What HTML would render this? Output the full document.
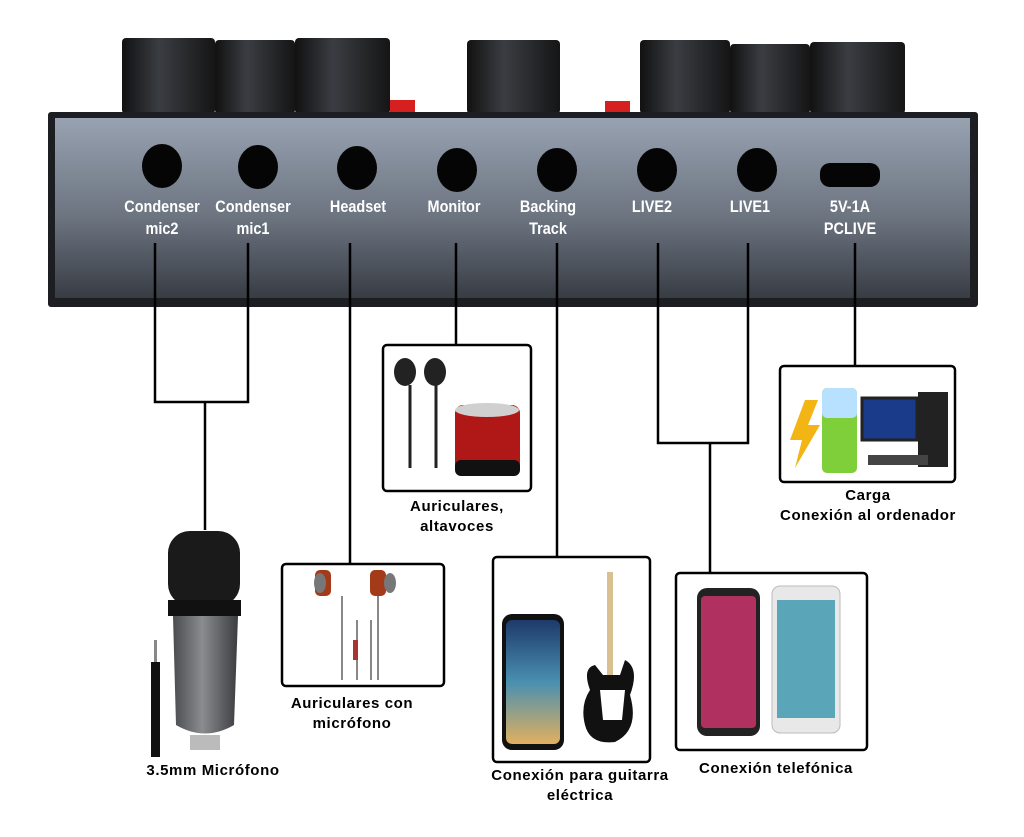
<!DOCTYPE html>
<html><head><meta charset="utf-8"><style>
html,body{margin:0;padding:0;background:#fff;width:1024px;height:837px;overflow:hidden}
svg text{font-family:"Liberation Sans",sans-serif;font-weight:bold}
</style></head><body>
<svg width="1024" height="837" viewBox="0 0 1024 837" xmlns="http://www.w3.org/2000/svg">
<defs>
<linearGradient id="pn" x1="0" y1="0" x2="0" y2="1">
<stop offset="0" stop-color="#98a2b1"/><stop offset="0.55" stop-color="#6c7480"/><stop offset="1" stop-color="#383c44"/></linearGradient>
<linearGradient id="kn" x1="0" y1="0" x2="1" y2="0">
<stop offset="0" stop-color="#111"/><stop offset="0.4" stop-color="#3a3d42"/><stop offset="1" stop-color="#151515"/></linearGradient>
<linearGradient id="mb" x1="0" y1="0" x2="1" y2="0">
<stop offset="0" stop-color="#4a4c50"/><stop offset="0.45" stop-color="#8a8c90"/><stop offset="1" stop-color="#3a3c40"/></linearGradient>
<linearGradient id="scr" x1="0" y1="0" x2="0" y2="1">
<stop offset="0" stop-color="#1d3a6a"/><stop offset="0.5" stop-color="#4a8fb0"/><stop offset="1" stop-color="#e0b060"/></linearGradient>
</defs>
<g fill="url(#kn)">
<rect x="122" y="38" width="93" height="76" rx="4"/>
<rect x="215" y="40" width="80" height="74" rx="4"/>
<rect x="295" y="38" width="95" height="76" rx="4"/>
<rect x="467" y="40" width="93" height="74" rx="4"/>
<rect x="640" y="40" width="90" height="74" rx="4"/>
<rect x="730" y="44" width="80" height="70" rx="4"/>
<rect x="810" y="42" width="95" height="72" rx="4"/>
</g>
<rect x="390" y="100" width="25" height="12" fill="#d62020"/>
<rect x="605" y="101" width="25" height="11" fill="#d62020"/>
<rect x="48" y="112" width="930" height="195" rx="3" fill="#1c1e22"/>
<rect x="55" y="118" width="915" height="180" fill="url(#pn)"/>
<g fill="#050505">
<ellipse cx="162" cy="166" rx="20" ry="22"/>
<ellipse cx="258" cy="167" rx="20" ry="22"/>
<ellipse cx="357" cy="168" rx="20" ry="22"/>
<ellipse cx="457" cy="170" rx="20" ry="22"/>
<ellipse cx="557" cy="170" rx="20" ry="22"/>
<ellipse cx="657" cy="170" rx="20" ry="22"/>
<ellipse cx="757" cy="170" rx="20" ry="22"/>
<rect x="820" y="163" width="60" height="24" rx="10"/>
</g>
<g fill="#fff" font-size="17" text-anchor="middle">
<g transform="translate(162,0) scale(0.85,1)"><text x="0" y="212">Condenser</text><text x="0" y="234">mic2</text></g>
<g transform="translate(253,0) scale(0.85,1)"><text x="0" y="212">Condenser</text><text x="0" y="234">mic1</text></g>
<g transform="translate(358,0) scale(0.85,1)"><text x="0" y="212">Headset</text></g>
<g transform="translate(454,0) scale(0.85,1)"><text x="0" y="212">Monitor</text></g>
<g transform="translate(548,0) scale(0.85,1)"><text x="0" y="212">Backing</text><text x="0" y="234">Track</text></g>
<g transform="translate(652,0) scale(0.85,1)"><text x="0" y="212">LIVE2</text></g>
<g transform="translate(750,0) scale(0.85,1)"><text x="0" y="212">LIVE1</text></g>
<g transform="translate(850,0) scale(0.85,1)"><text x="0" y="212">5V-1A</text><text x="0" y="234">PCLIVE</text></g>
</g>
<g stroke="#000" stroke-width="2.5" fill="none">
<path d="M155 243V402H248V243"/><path d="M205 402V530"/>
<path d="M350 243V565"/>
<path d="M456 243V345"/>
<path d="M557 243V558"/>
<path d="M658 243V443H748V243"/><path d="M710 443V573"/>
<path d="M855 243V366"/>
</g>
<g stroke="#000" stroke-width="2.5" fill="#fff">
<rect x="383" y="345" width="148" height="146" rx="4"/>
<rect x="780" y="366" width="175" height="116" rx="4"/>
<rect x="282" y="564" width="162" height="122" rx="4"/>
<rect x="493" y="557" width="157" height="205" rx="4"/>
<rect x="676" y="573" width="191" height="177" rx="4"/>
</g>
<g>
<ellipse cx="405" cy="372" rx="11" ry="14" fill="#222"/><ellipse cx="435" cy="372" rx="11" ry="14" fill="#222"/>
<path d="M410 385V468M436 385V468" stroke="#222" stroke-width="3"/>
<rect x="455" y="405" width="65" height="70" rx="8" fill="#b01818"/>
<ellipse cx="487" cy="410" rx="32" ry="7" fill="#d0d0d0"/>
<rect x="455" y="460" width="65" height="16" rx="6" fill="#111"/>
</g>
<g>
<path d="M805 400L790 440H802L795 468L820 425H808L818 400Z" fill="#f2b514"/>
<rect x="822" y="388" width="35" height="85" rx="5" fill="#7fcf3a"/>
<rect x="822" y="388" width="35" height="30" rx="5" fill="#b8e0ff"/>
<rect x="862" y="398" width="55" height="42" fill="#1a3a8a" stroke="#222" stroke-width="3"/>
<rect x="918" y="392" width="30" height="75" fill="#222"/>
<rect x="868" y="455" width="60" height="10" fill="#444"/>
</g>
<g>
<rect x="315" y="570" width="16" height="26" rx="5" fill="#a33a1a"/><rect x="370" y="570" width="16" height="26" rx="5" fill="#a33a1a"/>
<ellipse cx="320" cy="583" rx="6" ry="10" fill="#777"/><ellipse cx="390" cy="583" rx="6" ry="10" fill="#777"/>
<path d="M342 596V680M378 596V680M357 620V680M371 620V680" stroke="#888" stroke-width="2"/>
<rect x="353" y="640" width="5" height="20" fill="#a33"/>
</g>
<g>
<rect x="168" y="531" width="72" height="75" rx="22" fill="#1a1a1a"/>
<rect x="168" y="600" width="73" height="16" fill="#111"/>
<path d="M173 616H238L234 725Q205 742 176 725Z" fill="url(#mb)"/>
<rect x="190" y="735" width="30" height="15" fill="#bbb"/>
<rect x="151" y="662" width="9" height="95" fill="#111"/>
<rect x="154" y="640" width="3" height="22" fill="#888"/>
</g>
<g>
<rect x="502" y="614" width="62" height="136" rx="10" fill="#111"/>
<rect x="506" y="620" width="54" height="124" rx="6" fill="url(#scr)"/>
<rect x="607" y="572" width="6" height="110" fill="#d8c090"/>
<path d="M590 690Q582 668 595 665L603 675H620L625 660Q640 668 630 695Q640 730 615 742Q590 745 585 725Q580 705 590 690Z" fill="#111"/>
<path d="M600 690H625L622 720H603Z" fill="#fff"/>
</g>
<g>
<rect x="697" y="588" width="63" height="148" rx="10" fill="#222"/>
<rect x="701" y="596" width="55" height="132" rx="4" fill="#b03060"/>
<rect x="772" y="586" width="68" height="147" rx="8" fill="#e8e8e8" stroke="#bbb"/>
<rect x="777" y="600" width="58" height="118" fill="#5aa5b8"/>
</g>
<g fill="#000" font-size="15" text-anchor="middle" letter-spacing="0.6">
<text x="457" y="511">Auriculares,</text><text x="457" y="531">altavoces</text>
<text x="868" y="500">Carga</text><text x="868" y="520">Conexión al ordenador</text>
<text x="352" y="708">Auriculares con</text><text x="352" y="728">micrófono</text>
<text x="213" y="775">3.5mm Micrófono</text>
<text x="580" y="780">Conexión para guitarra</text><text x="580" y="800">eléctrica</text>
<text x="776" y="773">Conexión telefónica</text>
</g>
</svg>
</body></html>
